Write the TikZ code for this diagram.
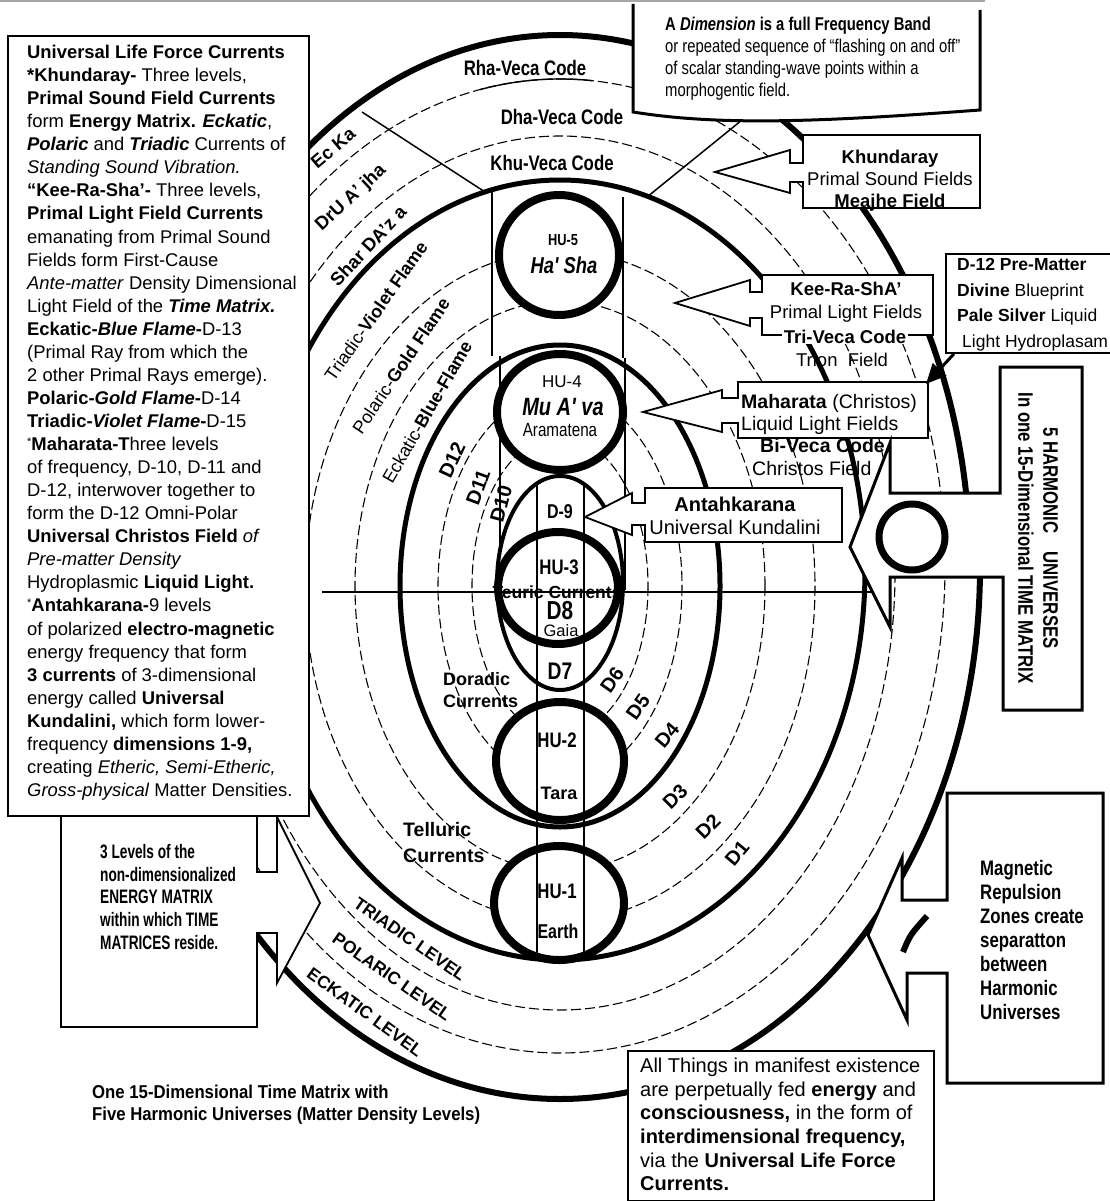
\documentclass[tikz,border=0pt]{standalone}
\usepackage{fontspec}
\setmainfont{Liberation Sans}
\newfontfamily\nrw[FakeStretch=0.8]{Liberation Sans}
\newfontfamily\semi[FakeStretch=0.9]{Liberation Sans}
\newfontfamily\cond[FakeStretch=0.7]{Liberation Sans}
\usetikzlibrary{arrows.meta}
\newcommand\fsz[2]{\fontsize{#1pt}{#2pt}\selectfont}
\newcommand\lowstar{{\fsz{11}{11}\raisebox{5pt}{*}}}

\begin{document}
\begin{tikzpicture}[x=1pt,y=-1pt,
  ring/.style={line width=5pt},
  outerring/.style={line width=6pt},
  band/.style={line width=1.1pt,dash pattern=on 10pt off 4pt},
  hucirc/.style={line width=8pt,fill=white},
  colline/.style={line width=1.5pt},
  callout/.style={line width=1.8pt,fill=white,line join=miter},
  heavybox/.style={line width=3pt,fill=white,line join=miter},
  txt/.style={inner sep=0pt},
  veca/.style={txt,font=\nrw\bfseries\fsz{21}{23}},
  zone/.style={txt,font=\bfseries\fsz{18.5}{20}},
  flame/.style={txt,font=\fsz{18}{20}},
  dlab/.style={txt,font=\bfseries\fsz{20}{22}},
  level/.style={txt,font=\bfseries\fsz{17.5}{19}},
  hulab/.style={txt,font=\nrw\bfseries\fsz{21}{23}},
  current/.style={txt,align=left,anchor=north west},
]
\useasboundingbox (0,0) rectangle (1109,1201);
\draw[black!35,line width=2.5pt] (0,1) -- (985,1);

% time matrix levels
\draw[outerring] (150,567) arc[start angle=180,end angle=360,x radius=410,y radius=532]
  (980,567) arc[start angle=0,end angle=180,x radius=420,y radius=532];
\draw[band] (560,566) ellipse [x radius=385,y radius=487];
\draw[line width=1.4pt] (480,89.6) arc[start angle=258,end angle=274.8,x radius=385,y radius=487];
\draw[band] (560,573) ellipse [x radius=335,y radius=437];
\draw[ring] (560,570) ellipse [x radius=305,y radius=390];
% dimensional bands
\draw[band] (560,586) ellipse [x radius=255,y radius=335];
\draw[band] (560,586) ellipse [x radius=205,y radius=285];
\draw[ring] (560,586) ellipse [x radius=160,y radius=241];
\draw[band] (560,586) ellipse [x radius=122,y radius=195];
\draw[band] (560,586) ellipse [x radius=88,y radius=150];

% dividers and columns
\draw[colline] (362,112) -- (485,192);
\draw[colline] (647,197) -- (742,120);
\draw[colline] (492,192) -- (492,356);
\draw[colline] (623,197) -- (623,358);
\draw[colline] (500,356) -- (500,578);
\draw[colline] (625,358) -- (625,590);

% harmonic universes
\draw[hucirc] (559,255) circle [radius=60];
\draw[hucirc] (560,412) ellipse [x radius=63,y radius=58];
\draw[line width=4pt,fill=white] (560,583) ellipse [x radius=63,y radius=107];
\draw[hucirc,fill=none] (558,588) ellipse [x radius=60,y radius=56];
\draw[hucirc] (560,761) ellipse [x radius=64,y radius=59];
\draw[hucirc] (559,903) ellipse [x radius=65,y radius=57];
\draw[colline] (537,484) -- (537,957);
\draw[colline] (584,484) -- (584,957);
\draw[colline] (322,592) -- (871,592);

% callouts
\draw[heavybox] (633,4) -- (633,112) .. controls (720,126) and (820,122) .. (980,110) -- (980,10);
\draw[callout] (803,135) -- (980,135) -- (980,208) -- (803,208) -- (803,182) -- (790,182) -- (790,193) -- (715,172) -- (790,150) -- (790,163) -- (803,163) -- cycle;
\draw[callout] (762,275) -- (933,275) -- (933,335) -- (762,335) -- (762,318) -- (750,318) -- (750,326) -- (675,303) -- (750,280) -- (750,292) -- (762,292) -- cycle;
\draw[callout] (738,382) -- (928,382) -- (928,438) -- (738,438) -- (738,423) -- (722,423) -- (722,432) -- (643,412) -- (722,390) -- (722,398) -- (738,398) -- cycle;
\draw[callout] (645,488) -- (842,488) -- (842,542) -- (645,542) -- (645,525) -- (632,525) -- (632,535) -- (585,517) -- (632,493) -- (632,503) -- (645,503) -- cycle;
\draw[heavybox] (1000,367) -- (1082,367) -- (1082,710) -- (1003,710) -- (1003,577) -- (890,577) -- (890,627) -- (850,547) -- (890,443) -- (890,493) -- (1000,493) -- cycle;
\draw[line width=7pt] (912,537) circle [radius=33];
\draw[heavybox] (947,793) -- (1103,793) -- (1103,1083) -- (947,1083) -- (947,973) -- (907,973) -- (907,1020) -- (868,935) -- (902,858) -- (902,900) -- (947,900) -- cycle;
\draw[line width=6pt] (903,952) .. controls (910,935) .. (927,916);
\draw[callout] (61,790) -- (61,1027) -- (257,1027) -- (257,933) -- (277,933) -- (277,983) -- (320,903) -- (277,817) -- (277,872) -- (257,872) -- (257,790);

\node[draw,line width=1.8pt,fill=white,anchor=north west,minimum width=301pt,minimum height=780pt,inner sep=0pt] (ulfbox) at (7,35) {};
\node[draw,line width=1.8pt,fill=white,anchor=north west,minimum width=200pt,minimum height=99pt,inner sep=0pt] (premat) at (945,253) {};
\node[draw,line width=1.8pt,fill=white,anchor=north west,minimum width=306pt,minimum height=150pt,inner sep=0pt] (allbox) at (627,1050) {};
\coordinate (mahne) at (926,384);
\draw[line width=3pt,-{Triangle[length=20pt,width=18pt]}] ([xshift=9pt]premat.south west) -- (mahne);

% main legend
\node[txt,anchor=north west,align=left,font=\fsz{18.4}{23.06}] (ulftext) at (27,45) {%
\textbf{Universal Life Force Currents}\\
\textbf{*Khundaray-} Three levels,\\
\textbf{Primal Sound Field Currents}\\
form \textbf{Energy Matrix.} \textbf{\itshape Eckatic},\\
\textbf{\itshape Polaric} and \textbf{\itshape Triadic} Currents of\\
\textit{Standing Sound Vibration.}\\
\textbf{“Kee-Ra-Sha’-} Three levels,\\
\textbf{Primal Light Field Currents}\\
emanating from Primal Sound\\
Fields form First-Cause\\
\textit{Ante-matter} Density Dimensional\\
Light Field of the \textbf{\itshape Time Matrix.}\\
\textbf{Eckatic-\itshape Blue Flame\upshape-}D-13\\
(Primal Ray from which the\\
2 other Primal Rays emerge).\\
\textbf{Polaric-\itshape Gold Flame\upshape-}D-14\\
\textbf{Triadic-\itshape Violet Flame\upshape-}D-15\\
\lowstar\textbf{Maharata-T}hree levels\\
of frequency, D-10, D-11 and\\
D-12, interwover together to\\
form the D-12 Omni-Polar\\
\textbf{Universal Christos Field} \textit{of}\\
\textit{Pre-matter Density}\\
Hydroplasmic \textbf{Liquid Light.}\\
\lowstar\textbf{Antahkarana-}9 levels\\
of polarized \textbf{electro-magnetic}\\
energy frequency that form\\
\textbf{3 currents} of 3-dimensional\\
energy called \textbf{Universal}\\
\textbf{Kundalini,} which form lower-\\
frequency \textbf{dimensions 1-9,}\\
creating \textit{Etheric, Semi-Etheric,}\\
\textit{Gross-physical} Matter Densities.};

% box texts
\node[txt,anchor=north west,align=left,font=\nrw\fsz{18.5}{21.8}] (dimtext) at (665,17) {%
\textbf{A \textit{Dimension} is a full Frequency Band}\\
or repeated sequence of “flashing on and off”\\
of scalar standing-wave points within a\\
morphogentic field.};
\node[txt,align=center,font=\fsz{18.5}{22}] (khund) at (890,181) {\textbf{Khundaray}\\Primal Sound Fields\\\textbf{Meajhe Field}};
\node[txt,align=center,font=\fsz{18.5}{23}] (keera) at (846,302) {\textbf{Kee-Ra-ShA'}\\Primal Light Fields};
\node[txt,fill=white,inner xsep=2pt,font=\bfseries\fsz{18.5}{20}] (triveca) at (845,337) {Tri-Veca Code};
\node[txt,font=\fsz{18.5}{20}] (trion) at (842,360) {Trion\ \ Field};
\node[txt,anchor=north west,align=left,font=\fsz{19.5}{22.3}] (mahtxt) at (741,394) {\textbf{Maharata} (Christos)\\Liquid Light Fields\\\hspace*{19pt}\textbf{Bi-Veca Code}\\\hspace*{11pt}Christos Field};
\node[txt,align=center,font=\fsz{20}{22.5}] (antah) at (735,516) {\textbf{Antahkarana}\\Universal Kundalini};
\node[txt,anchor=north west,align=left,font=\fsz{17.5}{25.7}] (premattxt) at (957,258) {\textbf{D-12 Pre-Matter}\\\textbf{Divine} Blueprint\\\textbf{Pale Silver} Liquid\\\hspace*{5pt}Light Hydroplasam};
\node[txt,rotate=-90,align=center,font=\nrw\bfseries\fsz{21}{25}] (fivehu) at (1038,538) {5 HARMONIC\hspace{18pt}UNIVERSES\\In one 15-Dimensional TIME MATRIX};
\node[txt,anchor=north west,align=left,font=\nrw\bfseries\fsz{21}{24}] (magrep) at (980,860) {Magnetic\\Repulsion\\Zones create\\separatton\\between\\Harmonic\\Universes};
\node[txt,anchor=north west,align=left,font=\fsz{20}{23.6}] (allthings) at (640,1058) {All Things in manifest existence\\are perpetually fed \textbf{energy} and\\\textbf{consciousness,} in the form of\\\textbf{interdimensional frequency,}\\via the \textbf{Universal Life Force}\\\textbf{Currents.}};
\node[txt,anchor=north west,align=left,font=\cond\bfseries\fsz{19.5}{22.8}] (threelev) at (100,844) {3 Levels of the\\non-dimensionalized\\ENERGY MATRIX\\within which TIME\\MATRICES reside.};
\node[txt,anchor=north west,align=left,font=\semi\bfseries\fsz{18.6}{22}] (caption) at (92,1085) {One 15-Dimensional Time Matrix with\\Five Harmonic Universes (Matter Density Levels)};

% ring labels
\node[veca] (rhaveca) at (525,68) {Rha-Veca Code};
\node[veca] (dhaveca) at (562,117) {Dha-Veca Code};
\node[veca] (khuveca) at (552,163) {Khu-Veca Code};
\node[zone,rotate=40] (ecka) at (333,148) {Ec Ka};
\node[zone,rotate=43] (druajha) at (351,198) {DrU A' jha};
\node[zone,rotate=47] (shardaza) at (368,246) {Shar DA'z a};
\node[flame,rotate=55] (violet) at (376,311) {Triadic-\textbf{Violet Flame}};
\node[flame,rotate=56] (gold) at (401,366) {Polaric-\textbf{Gold Flame}};
\node[flame,rotate=60] (blue) at (427,412) {Eckatic-\textbf{Blue-Flame}};
\node[dlab,rotate=65] (dtwelve) at (452,460) {D12};
\node[dlab,rotate=70] (deleven) at (478,487) {D11};
\node[dlab,rotate=75] (dten) at (501,504) {D10};
\node[dlab,rotate=55] (dsix) at (612,680) {D6};
\node[dlab,rotate=55] (dfive) at (638,707) {D5};
\node[dlab,rotate=50] (dfour) at (667,735) {D4};
\node[dlab,rotate=45] (dthree) at (675,797) {D3};
\node[dlab,rotate=45] (dtwo) at (708,827) {D2};
\node[dlab,rotate=50] (done) at (737,853) {D1};
\node[level,rotate=-35] (triadlev) at (410,939) {TRIADIC LEVEL};
\node[level,rotate=-35] (polarlev) at (392,977) {POLARIC LEVEL};
\node[level,rotate=-36] (eckatlev) at (365,1012) {ECKATIC LEVEL};
\node[current,font=\bfseries\fsz{18}{22.5}] (doradic) at (443,672) {Doradic\\Currents};
\node[current,font=\bfseries\fsz{19.5}{26}] (telluric) at (403,822) {Telluric\\Currents};

% sphere labels
\node[txt,font=\nrw\bfseries\fsz{16}{18}] (hufive) at (563,240) {HU-5};
\node[txt,font=\nrw\bfseries\itshape\fsz{23}{25}] (hasha) at (564,265) {Ha' Sha};
\node[txt,font=\fsz{17}{19}] (hufour) at (562,382) {HU-4};
\node[txt,font=\nrw\bfseries\itshape\fsz{25}{27}] (muava) at (563,407) {Mu A' va};
\node[txt,font=\nrw\fsz{19}{21}] (aramatena) at (560,430) {Aramatena};
\node[txt,font=\nrw\bfseries\fsz{20}{22}] (dnine) at (560,512) {D-9};
\node[hulab] (huthree) at (559,567) {HU-3};
\node[txt,font=\bfseries\fsz{17.5}{19}] (teuric) at (557,592) {Teuric Currents};
\node[txt,font=\nrw\bfseries\fsz{26}{28}] (deight) at (560,611) {D8};
\node[txt,font=\fsz{16.5}{18}] (gaia) at (561,631) {Gaia};
\node[txt,font=\nrw\bfseries\fsz{24}{26}] (dseven) at (560,671) {D7};
\node[hulab] (hutwo) at (557,740) {HU-2};
\node[txt,font=\bfseries\fsz{18}{20}] (tara) at (559,793) {Tara};
\node[hulab] (huone) at (557,891) {HU-1};
\node[txt,font=\nrw\bfseries\fsz{20}{22}] (earth) at (558,931) {Earth};
\end{tikzpicture}
\end{document}
